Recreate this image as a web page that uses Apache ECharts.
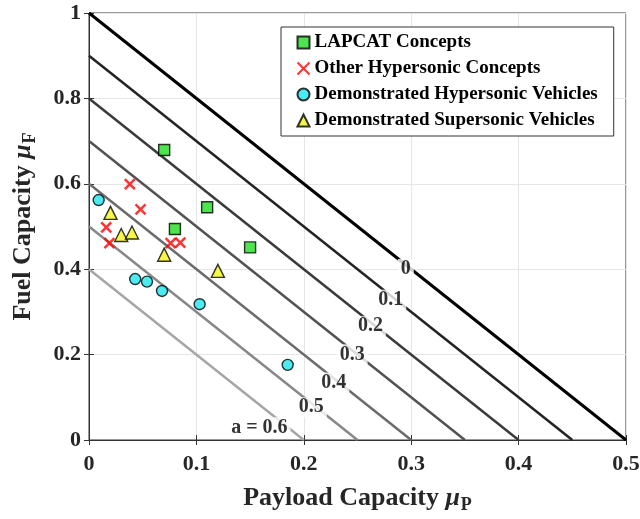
<!DOCTYPE html>
<html>
<head>
<meta charset="utf-8">
<script src="https://cdn.jsdelivr.net/npm/echarts@6/dist/echarts.min.js"></script>
<style>
  html, body { margin: 0; padding: 0; background: #fff; }
  #chart { width: 640px; height: 519px; }
</style>
</head>
<body>
<div id="chart"></div>
<script>
// constant-a lines: muF = 1 - a - 2*muP
var aValues = [0, 0.1, 0.2, 0.3, 0.4, 0.5, 0.6];
var aColors = ['#000000', '#232323', '#3a3a3a', '#525252', '#6b6b6b', '#888888', '#a6a6a6'];
var aLabelX = [0.295, 0.281, 0.262, 0.245, 0.228, 0.207, 0.1735];

// [payload, fuel]
var lapcat = [[0.070, 0.679], [0.110, 0.545], [0.080, 0.494], [0.150, 0.451]];
var otherHyper = [[0.038, 0.599], [0.048, 0.540], [0.016, 0.498], [0.019, 0.461], [0.076, 0.461], [0.085, 0.462]];
var demoHyper = [[0.009, 0.562], [0.043, 0.377], [0.054, 0.371], [0.068, 0.349], [0.103, 0.318], [0.185, 0.176]];
var demoSuper = [[0.020, 0.532], [0.030, 0.480], [0.040, 0.486], [0.070, 0.434], [0.120, 0.396]];

var font = 'Liberation Serif';
var chart = echarts.init(document.getElementById('chart'));

var series = [];
aValues.forEach(function (a, i) {
  series.push({
    type: 'line', silent: true, showSymbol: false, z: 1,
    data: [[0, 1 - a], [(1 - a) / 2, 0]],
    lineStyle: { color: aColors[i], width: i === 0 ? 3 : 2.5 }
  });
});

series.push({
  type: 'scatter', silent: true, symbolSize: 0, z: 2,
  data: aValues.map(function (a, i) {
    var x = aLabelX[i];
    return {
      value: [x, 1 - a - 2 * x],
      name: (i === aValues.length - 1 ? 'a = ' : '') + a,
      label: i === aValues.length - 1 ? { offset: [-16, 10] } : {}
    };
  }),
  label: {
    show: true, formatter: '{b}', position: 'inside', offset: [0, 4],
    fontFamily: font, fontWeight: 'bold', fontSize: 20, color: '#000',
    backgroundColor: '#fff', padding: [0, 3]
  }
});

var markerBorder = { borderColor: '#000', borderWidth: 1.4 };
series.push({
  name: 'LAPCAT Concepts', type: 'scatter', z: 3, symbol: 'rect', symbolSize: 11,
  itemStyle: Object.assign({ color: '#22dd22' }, markerBorder), data: lapcat
});
series.push({
  name: 'Other Hypersonic Concepts', type: 'scatter', z: 3,
  symbol: 'path://M0,0L10,10M10,0L0,10', symbolSize: 10,
  itemStyle: { color: 'none', borderColor: '#ff0000', borderWidth: 2.5 }, data: otherHyper
});
series.push({
  name: 'Demonstrated Hypersonic Vehicles', type: 'scatter', z: 3, symbol: 'circle', symbolSize: 11,
  itemStyle: Object.assign({ color: '#1fe6ee' }, markerBorder), data: demoHyper
});
series.push({
  name: 'Demonstrated Supersonic Vehicles', type: 'scatter', z: 3, symbol: 'triangle', symbolSize: 13,
  itemStyle: Object.assign({ color: '#f5f51a' }, markerBorder), data: demoSuper
});

var nameRich = {
  t: { fontFamily: font, fontWeight: 'bold', fontSize: 26, color: '#262626' },
  mu: { fontFamily: font, fontWeight: 'bold', fontStyle: 'italic', fontSize: 26, color: '#262626' },
  sub: { fontFamily: font, fontWeight: 'bold', fontSize: 18, color: '#262626', padding: [14, 0, 0, 1] }
};
var tickLabel = { fontFamily: font, fontWeight: 'bold', fontSize: 22, color: '#262626' };

chart.setOption({
  animation: false,
  grid: {
    left: 89, right: 14, top: 13, bottom: 79, outerBoundsMode: 'none',
    show: true, borderColor: '#333', borderWidth: 1
  },
  legend: {
    orient: 'vertical', left: 281, top: 27,
    backgroundColor: '#fff', borderColor: '#333', borderWidth: 1,
    padding: [6, 16, 6, 14], itemGap: 7, itemWidth: 12, itemHeight: 12,
    textStyle: { fontFamily: font, fontWeight: 'bold', fontSize: 19, color: '#000' },
    data: ['LAPCAT Concepts', 'Other Hypersonic Concepts', 'Demonstrated Hypersonic Vehicles', 'Demonstrated Supersonic Vehicles']
  },
  xAxis: [{
    type: 'value', min: 0, max: 0.5, interval: 0.1,
    name: '{t|Payload Capacity }{mu|μ}{sub|P}', nameLocation: 'middle', nameGap: 42,
    nameTextStyle: { rich: nameRich },
    axisLine: { lineStyle: { color: '#333' } },
    axisTick: { inside: true, length: 5, lineStyle: { color: '#333' } },
    axisLabel: Object.assign({ margin: 13 }, tickLabel),
    splitLine: { lineStyle: { color: '#e6e6e6' } }
  }, {
    type: 'value', min: 0, max: 0.5, interval: 0.1, position: 'top',
    axisLine: { lineStyle: { color: '#333' } },
    axisTick: { inside: true, length: 5, lineStyle: { color: '#333' } },
    axisLabel: { show: false }, splitLine: { show: false }
  }],
  yAxis: [{
    type: 'value', min: 0, max: 1, interval: 0.2,
    name: '{t|Fuel Capacity }{mu|μ}{sub|F}', nameLocation: 'middle', nameGap: 50,
    nameTextStyle: { rich: nameRich },
    axisLine: { lineStyle: { color: '#333' } },
    axisTick: { inside: true, length: 5, lineStyle: { color: '#333' } },
    axisLabel: Object.assign({ margin: 8 }, tickLabel),
    splitLine: { lineStyle: { color: '#e6e6e6' } }
  }, {
    type: 'value', min: 0, max: 1, interval: 0.2, position: 'right',
    axisLine: { lineStyle: { color: '#333' } },
    axisTick: { inside: true, length: 5, lineStyle: { color: '#333' } },
    axisLabel: { show: false }, splitLine: { show: false }
  }],
  series: series
});
</script>
</body>
</html>
